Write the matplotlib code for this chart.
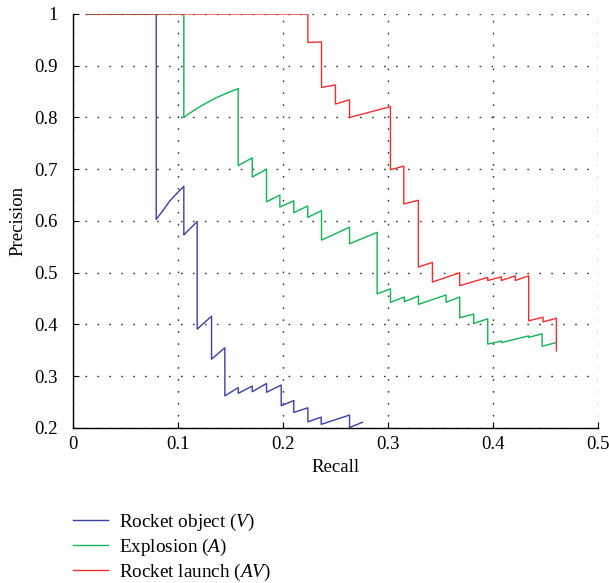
import matplotlib
matplotlib.use("Agg")
import matplotlib.pyplot as plt

# Rocket object (V)
blue_recall = [0.0127, 0.079, 0.079, 0.086, 0.092, 0.099, 0.1053, 0.1053, 0.118, 0.118,
               0.1317, 0.1317, 0.1444, 0.1444, 0.1572, 0.1572, 0.1705, 0.1705, 0.1841, 0.1841,
               0.1981, 0.1981, 0.2101, 0.2101, 0.2235, 0.2235, 0.2362, 0.2362, 0.2632, 0.2632, 0.2756]
blue_precision = [1, 1, 0.603, 0.622, 0.639, 0.654, 0.667, 0.573, 0.599, 0.391,
                  0.416, 0.333, 0.355, 0.262, 0.278, 0.267, 0.281, 0.270, 0.286, 0.269,
                  0.283, 0.243, 0.253, 0.230, 0.239, 0.212, 0.221, 0.207, 0.225, 0.201, 0.211]

# Explosion (A)
green_recall = [0.0127, 0.1053, 0.1053, 0.115, 0.125, 0.135, 0.145, 0.1571, 0.1571, 0.1705,
                0.1705, 0.1841, 0.1841, 0.1968, 0.1968, 0.2101, 0.2101, 0.2234, 0.2234, 0.2365,
                0.2365, 0.2632, 0.2632, 0.2895, 0.2895, 0.3022, 0.3022, 0.3155, 0.3155, 0.3289,
                0.3289, 0.3552, 0.3552, 0.3682, 0.3682, 0.3815, 0.3815, 0.3949, 0.3949, 0.4079,
                0.4079, 0.4339, 0.4339, 0.4467, 0.4467, 0.4603]
green_precision = [1, 1, 0.800, 0.814, 0.826, 0.837, 0.846, 0.856, 0.707, 0.722,
                   0.685, 0.700, 0.637, 0.650, 0.627, 0.639, 0.616, 0.629, 0.607, 0.620,
                   0.563, 0.588, 0.556, 0.578, 0.459, 0.469, 0.443, 0.453, 0.444, 0.455,
                   0.439, 0.457, 0.443, 0.453, 0.413, 0.420, 0.402, 0.411, 0.362, 0.368,
                   0.365, 0.378, 0.375, 0.382, 0.358, 0.365]

# Rocket launch (AV)
red_recall = [0.0127, 0.2235, 0.2235, 0.2365, 0.2365, 0.2498, 0.2498, 0.2632, 0.2632, 0.3022,
              0.3022, 0.3149, 0.3149, 0.3288, 0.3288, 0.3422, 0.3422, 0.3682, 0.3682, 0.3949,
              0.3949, 0.4079, 0.4079, 0.4212, 0.4212, 0.4339, 0.4339, 0.4476, 0.4476, 0.4603, 0.4603]
red_precision = [1, 1, 0.945, 0.946, 0.858, 0.863, 0.826, 0.834, 0.800, 0.821,
                 0.699, 0.706, 0.633, 0.640, 0.511, 0.520, 0.482, 0.500, 0.475, 0.491,
                 0.485, 0.492, 0.485, 0.494, 0.485, 0.494, 0.407, 0.414, 0.405, 0.412, 0.349]

labels = ["Rocket object ($V$)", "Explosion ($A$)", "Rocket launch ($AV$)"]
x_ticks = [0, 0.1, 0.2, 0.3, 0.4, 0.5]
x_ticklabels = ["0", "0.1", "0.2", "0.3", "0.4", "0.5"]
y_ticks = [0.2, 0.3, 0.4, 0.5, 0.6, 0.7, 0.8, 0.9, 1.0]
y_ticklabels = ["0.2", "0.3", "0.4", "0.5", "0.6", "0.7", "0.8", "0.9", "1"]

plt.rcParams["font.family"] = ["Liberation Serif", "DejaVu Serif"]
plt.rcParams["mathtext.fontset"] = "custom"
plt.rcParams["mathtext.it"] = "Liberation Serif:italic"
plt.rcParams["mathtext.rm"] = "Liberation Serif"

fig = plt.figure(figsize=(6.09, 5.83), dpi=100)
ax = fig.add_axes([0.1204, 0.2659, 0.8616, 0.7101])

ax.plot(blue_recall, blue_precision, color="#3b3fa6", lw=1.0, label=labels[0])
ax.plot(green_recall, green_precision, color="#10b455", lw=1.0, label=labels[1])
ax.plot(red_recall, red_precision, color="#f22d2d", lw=1.0, label=labels[2])

ax.set_xlim(0, 0.5)
ax.set_ylim(0.2, 1.0)
ax.set_xticks(x_ticks)
ax.set_xticklabels(x_ticklabels)
ax.set_yticks(y_ticks)
ax.set_yticklabels(y_ticklabels)
ax.tick_params(direction="in", length=4, width=0.8, labelsize=13.5)
ax.tick_params(axis="y", pad=11)
ax.tick_params(axis="x", pad=6)

ax.spines["top"].set_visible(False)
ax.spines["right"].set_visible(False)
ax.spines["left"].set_linewidth(1.0)
ax.spines["bottom"].set_linewidth(1.0)

ax.grid(True, color="#333333", linestyle=(0, (1.2, 7.4)), linewidth=1.0)
ax.set_axisbelow(True)

ax.set_xlabel("Recall", fontsize=13.5, labelpad=4)
ax.set_ylabel("Precision", fontsize=13.5, labelpad=6)

fig.legend(loc="upper left", bbox_to_anchor=(0.12, 0.122), frameon=False,
           fontsize=13.8, handlelength=1.8, handletextpad=0.57, labelspacing=0.2,
           borderpad=0, borderaxespad=0)

fig.savefig("out.png", dpi=100)
